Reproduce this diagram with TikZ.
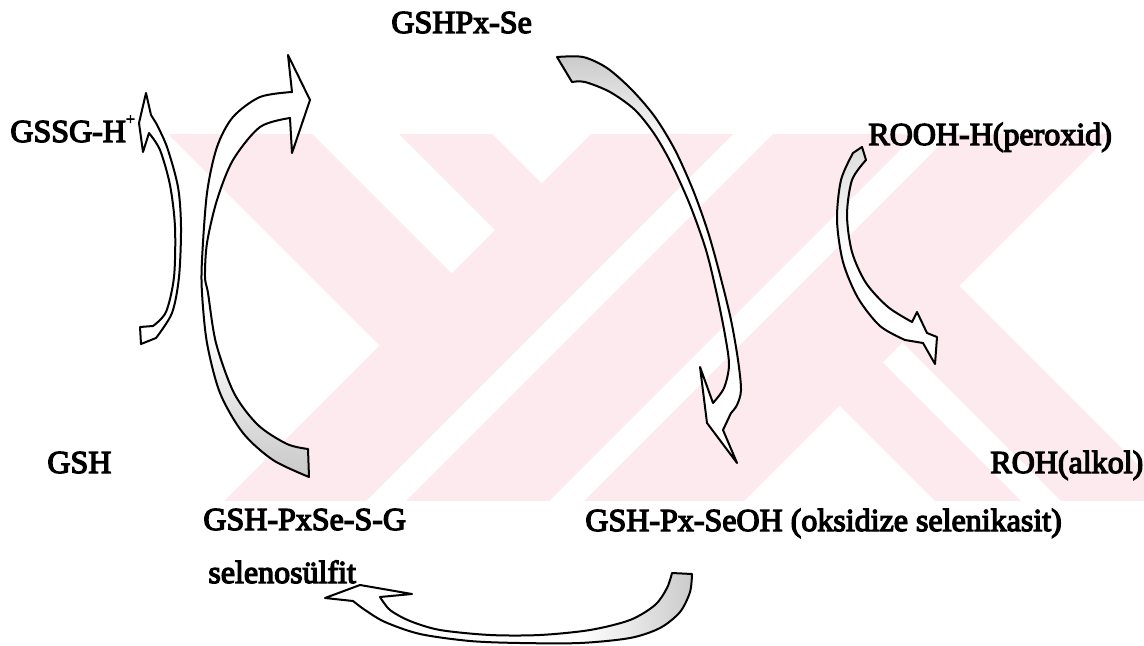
\documentclass[tikz,border=0pt]{standalone}
\usepackage{fontspec}
\setmainfont{Liberation Serif}
\newfontfamily\scanfont{Liberation Serif}[FakeBold=4]
\definecolor{wm}{RGB}{252,234,239}
\tikzset{
  lbl/.style={anchor=base west, inner sep=0pt, font=\scanfont\fontsize{16pt}{19pt}\selectfont},
  outl/.style={draw=black, line width=1pt, line join=round},
}
\begin{document}
\begin{tikzpicture}[x=0.5pt,y=-0.5pt]
\useasboundingbox (0,0) rectangle (1144,646);
\fill[white] (0,0) rectangle (1144,646);
% watermark
\begin{scope}
\clip (170,135) rectangle (1144,500);
\fill[wm] (134,100) -- (278,100) -- (451.5,273.5) -- (379.5,345.5) -- cycle;
\fill[wm] (365,100) -- (458,100) -- (541.5,183.5) -- (495,230) -- cycle;
\fill[wm] (625,100) -- (767,100) -- (267,600) -- (125,600) -- cycle;
\fill[wm] (807,100) -- (950,100) -- (450,600) -- (307,600) -- cycle;
\fill[wm] (985,100) -- (1145,100) -- (645,600) -- (485,600) -- cycle;
\fill[wm] (839.5,405.5) -- (882.5,362.5) -- (1120,600) -- (1034,600) -- cycle;
\fill[wm] (902.5,342.5) -- (959,286) -- (1273,600) -- (1160,600) -- cycle;
\end{scope}
% labels
\node[lbl] (gshpx) at (391,33) {GSHPx-Se};
\node[lbl] (gssg) at (10,142) {GSSG-H\raisebox{0.55em}{\fontsize{8pt}{9pt}\selectfont +}};
\node[lbl] (rooh) at (868,145) {ROOH-H(peroxid)};
\node[lbl] (gsh) at (47,473) {GSH};
\node[lbl] (roh) at (990,473) {ROH(alkol)};
\node[lbl] (gshses) at (203,530) {GSH-PxSe-S-G};
\node[lbl] (gshseoh) at (585,531) {GSH-Px-SeOH (oksidize selenikasit)};
\node[lbl] (seleno) at (208,583) {selenosülfit};
% arrow A : GSH -> GSSG-H+
\def\pathA{(146,93) -- (151,115) -- (156,123)
  -- plot[smooth] coordinates {(156,123) (167,147) (178,187) (181,227) (179,277) (172,313) (156,338)}
  -- (141,344) -- (140,327) -- (153,326)
  -- plot[smooth] coordinates {(153,326) (166,312) (174,277) (175,227) (170,185) (160,150) (149,133)}
  -- (143,152) -- (139,123) -- cycle}
\fill[white] \pathA;
\draw[outl] \pathA;
% arrow B : GSH-PxSe-S-G -> up
\def\pathB{(292,92) -- (288,55) -- (310,100) -- (292,153) -- (290,118)
  -- plot[smooth] coordinates {(290,118) (260,127) (233,160) (217,200) (207,243) (205,277) (208,293) (216,343) (234,393) (258,425) (287,444) (308,449)}
  -- (309,477)
  -- plot[smooth] coordinates {(309,477) (273,460) (243,433) (220,393) (207,343) (202,293) (202,260) (207,193) (217,147) (233,117) (260,97) (292,92)}
  -- cycle}
\fill[white] \pathB;
\begin{scope}
\clip \pathB;
\shade[top color=white, bottom color=black!22] (190,330) rectangle (320,480);
\end{scope}
\draw[outl] \pathB;
% arrow C : GSHPx-Se -> GSH-Px-SeOH
\def\pathC{(557,57) -- plot[smooth] coordinates {(557,57) (583,57) (607,68) (632,90) (655,117) (675,150) (693,190) (708,232) (720,275) (731,320) (738,360) (741,390) (737,405) (731,413)}
  -- (723,430) -- (737,463) -- (707,423) -- (700,367) -- (713,403)
  -- plot[smooth] coordinates {(713,403) (724,388) (729,365) (725,335) (717,295) (706,250) (690,205) (672,165) (655,135) (635,110) (610,92) (585,82) (572,82)} -- cycle}
\fill[white] \pathC;
\begin{scope}
\clip \pathC;
\shade[top color=black!22, bottom color=white] (550,50) rectangle (700,150);
\end{scope}
\draw[outl] \pathC;
% arrow D : ROOH-H -> ROH
\def\pathD{(862,147) -- (866,160)
  -- plot[smooth] coordinates {(866,160) (852,180) (847,215) (852,252) (866,283) (888,307) (912,322)}
  -- (917,312) -- (927,333) -- (937,337) -- (935,364) -- (923,343) -- (905,340)
  -- plot[smooth] coordinates {(905,340) (880,326) (858,298) (843,262) (837,220) (841,180) (853,153)} -- cycle}
\fill[white] \pathD;
\begin{scope}
\clip \pathD;
\shade[top color=black!14, bottom color=white] (830,140) rectangle (940,260);
\end{scope}
\draw[outl] \pathD;
% arrow E : GSH-Px-SeOH -> selenosulfit
\def\pathE{(672,573) -- (692,574)
  -- plot[smooth] coordinates {(692,574) (690,592) (680,612) (660,628) (630,638) (580,643) (520,643) (470,641) (420,634) (385,622) (365,610) (353,601)}
  -- (325,598) -- (360,585) -- (412,594) -- (380,597)
  -- plot[smooth] coordinates {(380,597) (390,610) (410,621) (440,630) (490,635) (540,635) (590,630) (630,620) (655,605) (667,588) (672,573)} -- cycle}
\fill[white] \pathE;
\begin{scope}
\clip \pathE;
\shade[left color=white, right color=black!22] (580,560) rectangle (700,646);
\end{scope}
\draw[outl] \pathE;
\end{tikzpicture}
\end{document}
